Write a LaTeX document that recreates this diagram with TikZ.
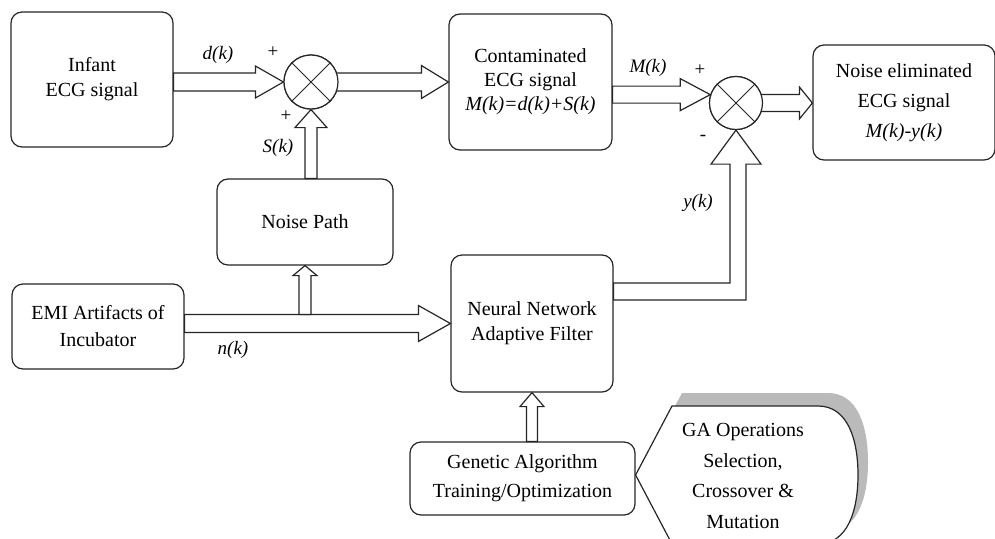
\documentclass[tikz,border=0pt]{standalone}
\usepackage{fontspec}
\setmainfont{Liberation Serif}
\usetikzlibrary{calc}
\newcommand\harrow[5]{%
  \coordinate (hb) at ($(#2)!#5!(#1)$);
  \draw[hollow] ($(#1)!#3!90:(#2)$) -- ($(hb)!#3!-90:(#1)$) -- ($(hb)!#4!-90:(#1)$) -- (#2)
     -- ($(hb)!#4!90:(#1)$) -- ($(hb)!#3!90:(#1)$) -- ($(#1)!#3!-90:(#2)$) -- cycle;}
\begin{document}
\begin{tikzpicture}[x=1pt,y=-1pt,
  box/.style={draw=black!85, rounded corners=11pt, line width=1.2pt, fill=white, inner sep=0pt,
              align=center, font=\fontsize{20}{25}\selectfont},
  hollow/.style={draw=black!85, fill=white, line width=1.2pt, line join=miter},
  sumj/.style={draw=black!85, circle, fill=white, line width=1.2pt, inner sep=0pt},
  lbl/.style={font=\fontsize{19}{22}\selectfont\itshape, inner sep=0pt},
  sign/.style={font=\fontsize{19}{22}\selectfont, inner sep=0pt}]
\useasboundingbox (0,0) rectangle (995,538);
\begin{scope}
\clip (0,0) rectangle (995,538);
% boxes
\node[box, minimum width=162pt, minimum height=135pt] (infant) at (92,79.5) {Infant\\ECG signal};
\node[box, minimum width=163pt, minimum height=136pt, font=\fontsize{20}{24}\selectfont] (cont) at (530.5,82)
   {Contaminated\\ECG signal\\\textit{M(k)=d(k)+S(k)}};
\node[box, minimum width=182pt, minimum height=115pt, font=\fontsize{20}{30}\selectfont] (noiseel) at (904,102.5)
   {Noise eliminated\\ECG signal\\\textit{M(k)-y(k)}};
\node[box, minimum width=176pt, minimum height=86pt] (noisepath) at (305,222) {Noise Path};
\node[box, minimum width=172pt, minimum height=85pt, font=\fontsize{20}{27}\selectfont] (emi) at (98,326.5) {EMI Artifacts of\\Incubator};
\node[box, minimum width=162pt, minimum height=137pt] (nn) at (532,323.5) {Neural Network\\Adaptive Filter};
\node[box, minimum width=225pt, minimum height=73pt, font=\fontsize{20}{29}\selectfont] (ga) at (522.5,478.5) {Genetic Algorithm\\Training/Optimization};
% summing junction positions
\coordinate (s1c) at (311,82);
\coordinate (s2c) at (736,103);
\node[sumj, minimum size=54pt] (sum1) at (s1c) {};
\node[sumj, minimum size=53pt] (sum2) at (s2c) {};
% hollow arrows
\harrow{infant.east |- sum1.center}{sum1.west}{9pt}{16pt}{28pt}
\harrow{sum1.center}{cont.west |- sum1.center}{9pt}{16.5pt}{27pt}
\harrow{sum1.center |- noisepath.north}{sum1.south}{6pt}{16pt}{18pt}
\harrow{cont.east |- sum2.162}{sum2.162}{8.5pt}{16pt}{30pt}
\harrow{sum2.center}{noiseel.west |- sum2.center}{8.5pt}{16pt}{13pt}
\harrow{emi.east |- nn.west}{nn.west}{9pt}{18pt}{32pt}
\coordinate (npbase) at ($(noisepath.south |- nn.west)+(0,-9)$);
\harrow{npbase}{noisepath.south}{6pt}{12pt}{10pt}
\harrow{nn.south |- ga.north}{nn.south}{5.5pt}{12pt}{14pt}
% y(k) elbow arrow
\coordinate (yk) at ($(nn.east)+(0,-32)$);
\draw[hollow] ($(yk)+(0,-8.5)$) -- ($(yk -| sum2.center)+(-6,-8.5)$) -- ($(sum2.south)+(-6,34)$)
   -- ($(sum2.south)+(-25,34)$) -- (sum2.south) -- ($(sum2.south)+(25,34)$) -- ($(sum2.south)+(10,34)$)
   -- ($(yk -| sum2.center)+(10,8.5)$) -- ($(yk)+(0,8.5)$) -- cycle;
% junctions on top
\node[sumj, minimum size=54pt] (sum1b) at (s1c) {};
\node[sumj, minimum size=53pt] (sum2b) at (s2c) {};
\draw[black!85, line width=1pt] (sum1b.45) -- (sum1b.225) (sum1b.135) -- (sum1b.315);
\draw[black!85, line width=1pt] (sum2b.45) -- (sum2b.225) (sum2b.135) -- (sum2b.315);
% callout with shadow
\fill[black!27] (645,462) -- (682,393) -- (828,393) .. controls (858,393) and (868,427) .. (868,462)
   .. controls (868,497) and (858,531) .. (828,531) -- (682,531) -- cycle;
\draw[hollow] (ga.east |- 0,475) -- (672,406) -- (818,406) .. controls (848,406) and (858,440) .. (858,475)
   .. controls (858,510) and (848,544) .. (818,544) -- (672,544) -- cycle;
\node[align=center, font=\fontsize{20}{30.5}\selectfont, inner sep=0pt] (gaops) at (743,476)
   {GA Operations\\Selection,\\Crossover \&\\Mutation};
% labels
\node[lbl] (ldk) at (218,55) {d(k)};
\node[sign] (p1) at (273,52) {+};
\node[sign] (p2) at (286,116) {+};
\node[lbl] (lsk) at (278,148) {S(k)};
\node[lbl] (lmk) at (648,68) {M(k)};
\node[sign] (p3) at (700,70) {+};
\node[sign] (m1) at (703,138) {-};
\node[lbl] (lyk) at (698,203) {y(k)};
\node[lbl] (lnk) at (233,350) {n(k)};
\end{scope}
\end{tikzpicture}
\end{document}
